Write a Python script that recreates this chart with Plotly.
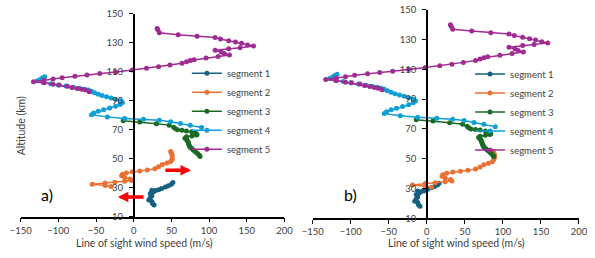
import plotly.graph_objects as go

# ---------------- data ----------------
seg_names = ["segment 1", "segment 2", "segment 3", "segment 4", "segment 5"]
seg_colors = ["#156082", "#E97132", "#196B24", "#0F9ED5", "#A02B93"]

# panel a
seg1a_speed = [27, 25, 24, 20, 22, 24, 22, 26, 24, 29, 33, 37, 42, 46, 50, 52]
seg1a_alt = [18, 19, 20.5, 21.5, 23, 24.5, 26, 27, 28.3, 28, 28.5, 29.5, 30.5, 31.3, 32.3, 33.5]
seg2a_speed = [-30, -38, -55, -38, -25, -12, -3, -5, -12, -16, -15, -10, -2, 8, 18, 28, 33, 38, 44, 49, 51, 51, 51, 50, 49]
seg2a_alt = [30.8, 31.5, 32.3, 33.3, 33.8, 34.5, 35, 36, 37, 38.2, 39.2, 40.2, 41, 41.5, 42.2, 43, 44.5, 46, 47, 48, 49.5, 51, 52.5, 54, 55]

# panel b
seg1b_speed = [-9, -11, -12, -16, -14, -12, -14, -10, -12, -7, -3, 1, 6, 10, 14, 16]
seg1b_alt = [18, 19, 20.5, 21.5, 23, 24.5, 26, 27, 28.3, 28, 28.5, 29.5, 30.5, 31.3, 32.3, 33.5]
seg2b_speed = [6, -2, -19, -2, 11, 24, 33, 31, 24, 20, 21, 26, 34, 44, 54, 64, 70, 75, 81, 86, 88, 89, 89, 88, 87]
seg2b_alt = [30.8, 31.5, 32.3, 33.3, 33.8, 34.5, 35, 36, 37, 38.2, 39.2, 40.2, 41, 41.5, 42.2, 43, 44.5, 46, 47, 48, 49.5, 51, 52.5, 54, 55]

# shared by both panels
seg3_speed = [-14, 8, 30, 47, 53, 55, 58, 64, 70, 77, 82, 84, 83, 77, 70, 68, 70, 71, 72, 72.5,
              73, 74, 75, 77, 79, 81, 83, 85, 87, 88]
seg3_alt = [76.2, 75.4, 74.1, 73.2, 71.8, 70.8, 70, 69.6, 69.2, 68.6, 67.9, 66.8, 66.3, 65.7, 65.1,
            64.2, 63.3, 62.5, 61.6, 60.8, 59.8, 58.8, 57.9, 57, 56, 55.2, 54.3, 53.4, 52.4, 51.5]
seg4_speed = [-118, -121, -124, -128, -120, -110, -100, -90, -80, -72, -65, -60, -56, -52, -47, -42,
              -36, -30, -24, -18, -15, -18, -24, -32, -40, -47, -53, -56, -35, -12, 13, 34, 49, 62, 75, 90]
seg4_alt = [106.7, 105.9, 104.8, 103.8, 102.6, 101.8, 101, 100.2, 99.4, 98.7, 98, 97.4, 96.6, 95.6,
            94.6, 93.7, 92.8, 91.9, 91, 90, 88.8, 87.5, 86.2, 85, 83.9, 82.8, 81.6, 80.4, 78.9, 77.8,
            77.2, 76.5, 75.6, 74.4, 73.2, 71.5]
seg5_speed = [31, 32, 34, 59, 84, 108, 115, 126, 135, 143, 151, 159, 141, 126, 108, 116, 120, 127, 112,
              96, 80, 75, 70, 64, 48, 33, 17, -2, -24, -45, -62, -78, -95, -107, -119, -133, -119, -107,
              -99, -88, -82, -75, -69, -64, -59]
seg5_alt = [140, 139, 137, 135.7, 134.6, 133.7, 132.7, 131.5, 130.6, 129.7, 128.6, 127.8, 126.7, 126,
            124.9, 123.7, 122.7, 121.7, 120.6, 119.5, 118.4, 117.8, 116.9, 116, 114.7, 113.5, 112.5,
            111.2, 109.9, 108.8, 107.9, 107, 106, 105, 104.2, 103.2, 102.5, 101.4, 101, 100.1, 99.2,
            98.5, 97.9, 97.4, 96.3]

x_range = [-150, 200]
x_ticks = [-150, -100, -50, 0, 50, 100, 150, 200]
y_range = [10, 150]
y_ticks = [10, 30, 50, 70, 90, 110, 130, 150]

panel_a = [(seg1a_speed, seg1a_alt), (seg2a_speed, seg2a_alt), (seg3_speed, seg3_alt),
           (seg4_speed, seg4_alt), (seg5_speed, seg5_alt)]
panel_b = [(seg1b_speed, seg1b_alt), (seg2b_speed, seg2b_alt), (seg3_speed, seg3_alt),
           (seg4_speed, seg4_alt), (seg5_speed, seg5_alt)]

# ---------------- layout geometry ----------------
W, H = 595, 258
FONT = "Lato, 'Liberation Sans', Arial, sans-serif"
TXT = "#404040"


def px_dom_x(a, b):
    return [a / W, b / W]


def px_dom_y(top, bottom):
    return [1 - bottom / H, 1 - top / H]


xa_dom = px_dom_x(10, 283)
ya_dom = px_dom_y(8.3, 220)
xb_dom = px_dom_x(312.3, 587.7)
yb_dom = px_dom_y(4, 221.7)

zero_frac = (0 - x_range[0]) / (x_range[1] - x_range[0])
ya_pos = xa_dom[0] + zero_frac * (xa_dom[1] - xa_dom[0])
yb_pos = xb_dom[0] + zero_frac * (xb_dom[1] - xb_dom[0])

fig = go.Figure()

for i, (sx, sy) in enumerate(panel_a):
    fig.add_trace(go.Scatter(x=sx, y=sy, mode="lines+markers", name=seg_names[i],
                             line=dict(color=seg_colors[i], width=1.5),
                             marker=dict(color=seg_colors[i], size=5),
                             xaxis="x", yaxis="y", legend="legend", cliponaxis=False))
for i, (sx, sy) in enumerate(panel_b):
    fig.add_trace(go.Scatter(x=sx, y=sy, mode="lines+markers", name=seg_names[i],
                             line=dict(color=seg_colors[i], width=1.5),
                             marker=dict(color=seg_colors[i], size=5),
                             xaxis="x2", yaxis="y2", legend="legend2", cliponaxis=False))

tickfont = dict(family=FONT, size=9.5, color=TXT)
xcommon = dict(range=x_range, tickvals=x_ticks, showgrid=False, zeroline=False,
               showline=True, linecolor="black", linewidth=1.5,
               ticks="outside", ticklen=4, tickwidth=1.2, tickcolor="black", tickfont=tickfont)
ycommon = dict(range=y_range, tickvals=y_ticks, showgrid=False, zeroline=False,
               showline=True, linecolor="black", linewidth=1.5, ticklabelstandoff=4,
               ticks="outside", ticklen=4, tickwidth=1.2, tickcolor="black", tickfont=tickfont)
ovx = dict(range=x_range, tickvals=x_ticks, showgrid=False, zeroline=False, showline=False,
           ticks="inside", ticklen=4, tickwidth=1.2, tickcolor="black", showticklabels=False)
ovy = dict(range=y_range, tickvals=y_ticks, showgrid=False, zeroline=False, showline=False,
           ticks="inside", ticklen=4, tickwidth=1.2, tickcolor="black", showticklabels=False)

legfont = dict(family=FONT, size=9.5, color=TXT)
fig.update_layout(
    width=W, height=H, margin=dict(l=0, r=0, t=0, b=0),
    paper_bgcolor="white", plot_bgcolor="rgba(0,0,0,0)",
    font=dict(family=FONT, color=TXT),
    xaxis=dict(domain=xa_dom, anchor="y", **xcommon),
    yaxis=dict(domain=ya_dom, anchor="free", position=ya_pos, **ycommon),
    xaxis2=dict(domain=xb_dom, anchor="y2", **xcommon),
    yaxis2=dict(domain=yb_dom, anchor="free", position=yb_pos, **ycommon),
    xaxis3=dict(overlaying="x", anchor="y", **ovx),
    yaxis3=dict(overlaying="y", anchor="free", position=ya_pos, **ovy),
    xaxis4=dict(overlaying="x2", anchor="y2", **ovx),
    yaxis4=dict(overlaying="y2", anchor="free", position=yb_pos, **ovy),
    legend=dict(x=182 / W, y=1 - 55 / H, xanchor="left", yanchor="top",
                bgcolor="rgba(0,0,0,0)", font=legfont, tracegroupgap=0, itemwidth=30),
    legend2=dict(x=475 / W, y=1 - 56 / H, xanchor="left", yanchor="top",
                 bgcolor="rgba(0,0,0,0)", font=legfont, tracegroupgap=0, itemwidth=30),
)

ptxt = dict(xref="paper", yref="paper", showarrow=False, xanchor="center", yanchor="middle")
annos = [
    dict(text="Altitude (km)", x=10 / W, y=1 - 125 / H, textangle=-90,
         font=dict(family=FONT, size=10.5, color=TXT), **ptxt),
    dict(text="Line of sight wind speed (m/s)", x=138 / W, y=1 - 248 / H,
         font=dict(family=FONT, size=10.5, color=TXT), **ptxt),
    dict(text="Line of sight wind speed (m/s)", x=461 / W, y=1 - 248 / H,
         font=dict(family=FONT, size=10.5, color=TXT), **ptxt),
    dict(text="a)", x=37 / W, y=1 - 197 / H, font=dict(family=FONT, size=16, color="black"), **ptxt),
    dict(text="b)", x=351 / W, y=1 - 197 / H, font=dict(family=FONT, size=16, color="black"), **ptxt),
    # red arrows
    dict(x=76, y=42, ax=40, ay=42, xref="x", yref="y", axref="x", ayref="y", text="",
         showarrow=True, arrowhead=2, arrowsize=0.6, arrowwidth=3.5, arrowcolor="#FF0000"),
    dict(x=-21, y=23.5, ax=15, ay=23.5, xref="x", yref="y", axref="x", ayref="y", text="",
         showarrow=True, arrowhead=2, arrowsize=0.6, arrowwidth=3.5, arrowcolor="#FF0000"),
]
fig.update_layout(annotations=annos)

fig.write_html("out.html", config={"displayModeBar": False},
               post_script="document.body.style.margin='0';document.body.style.padding='0';"
                           "document.body.style.overflow='hidden';")
